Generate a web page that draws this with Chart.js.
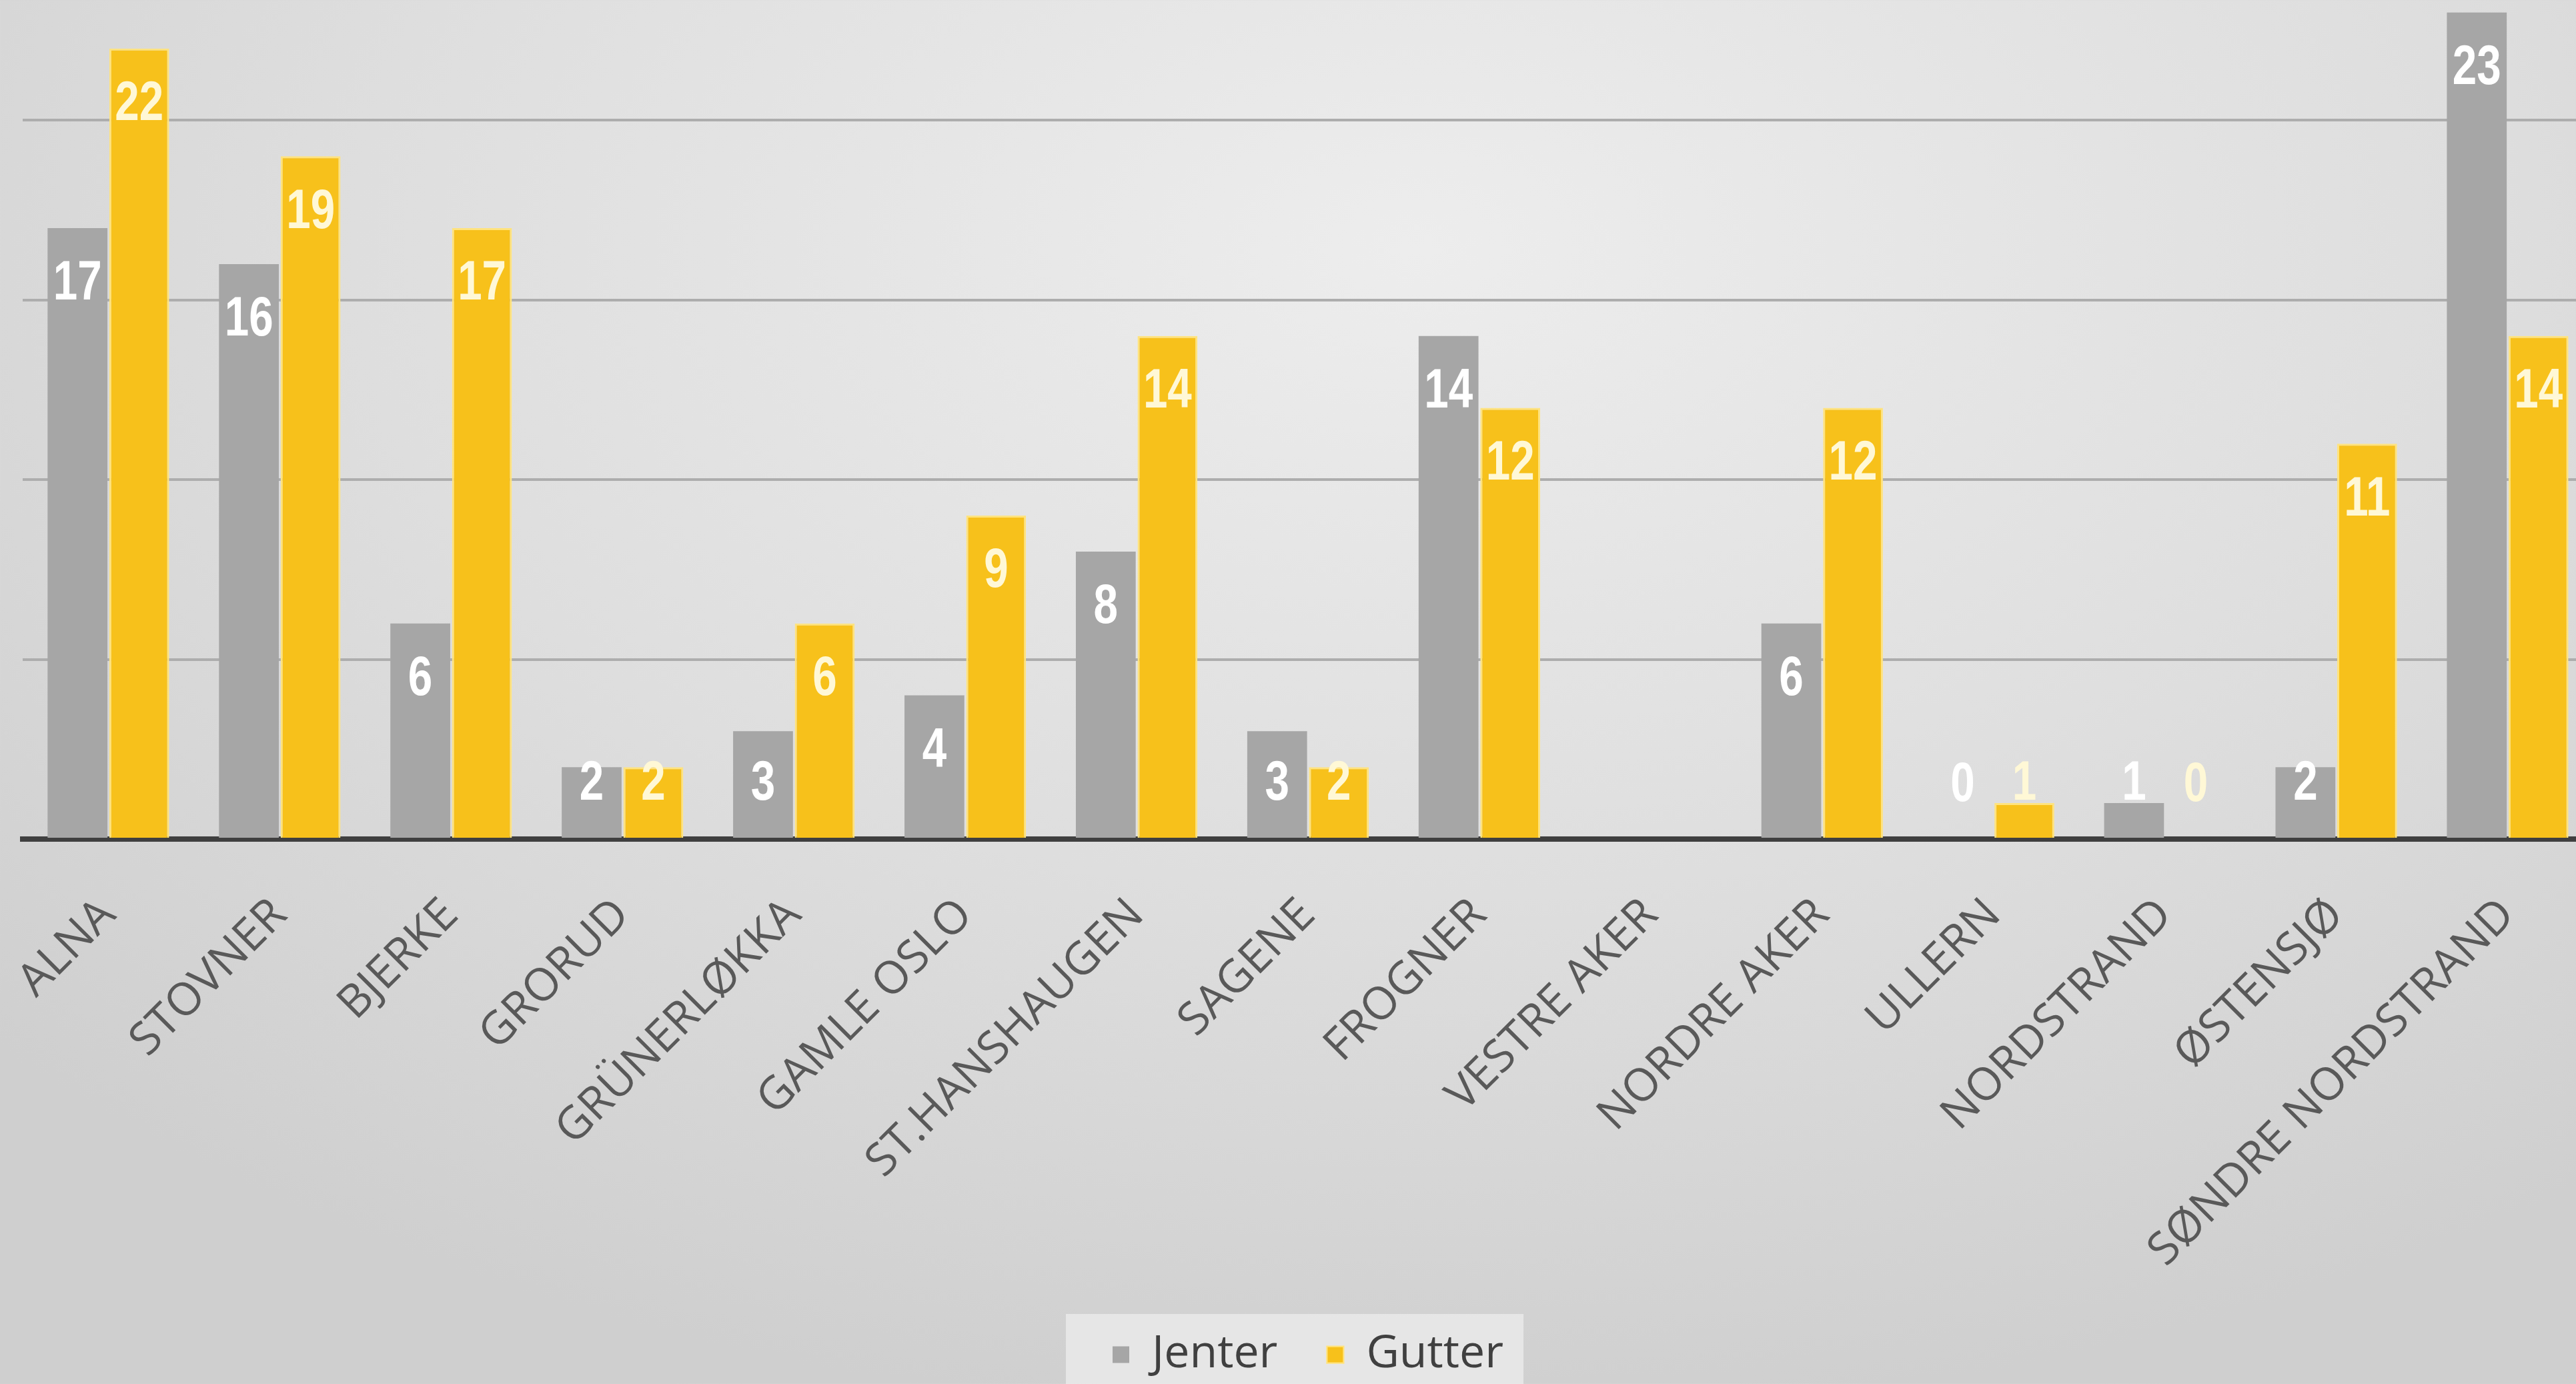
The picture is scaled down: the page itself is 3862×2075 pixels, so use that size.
<!DOCTYPE html>
<html>
<head>
<meta charset="utf-8">
<script src="https://cdn.jsdelivr.net/npm/chart.js@4.4.1/dist/chart.umd.min.js"></script>
<style>
    html, body { margin: 0; padding: 0; overflow: hidden; width: 3862px; height: 2075px; }
    body { background: radial-gradient(ellipse 75% 85% at 55% 18%, #ededed 0%, #dedede 55%, #cfcfcf 100%); }
    #wrap { position: absolute; left: 0; top: 0; width: 3890px; height: 2075px; }
</style>
</head>
<body>
<div id="wrap"><canvas id="chartBydel" width="3890" height="2075"></canvas></div>
<script>
var bydeler = ['ALNA', 'STOVNER', 'BJERKE', 'GRORUD', 'GRÜNERLØKKA', 'GAMLE OSLO', 'ST.HANSHAUGEN', 'SAGENE',
    'FROGNER', 'VESTRE AKER', 'NORDRE AKER', 'ULLERN', 'NORDSTRAND', 'ØSTENSJØ', 'SØNDRE NORDSTRAND'];
var jenter = [17, 16, 6, 2, 3, 4, 8, 3, 14, null, 6, 0, 1, 2, 23];
var gutter = [22, 19, 17, 2, 6, 9, 14, 2, 12, null, 12, 1, 0, 11, 14];
var gridSteps = [0, 5, 10, 15, 20];

var AXIS_Y = 1258;

// white value labels inside the top of each bar (like excel "inside end")
var valueLabels = {
    id: 'valueLabels',
    afterDatasetsDraw: function(chart) {
        var ctx = chart.ctx;
        ctx.save();
        ctx.font = 'bold 84px "Liberation Sans", "DejaVu Sans", sans-serif';
        ctx.textAlign = 'center';
        ctx.textBaseline = 'middle';
        chart.data.datasets.forEach(function(ds, di) {
            var meta = chart.getDatasetMeta(di);
            meta.data.forEach(function(bar, i) {
                var v = ds.data[i];
                if (v === null || v === undefined) return;
                var cy = Math.min(bar.y + 84, bar.base - 80);
                ctx.fillStyle = di === 0 ? '#ffffff' : '#fff8d6';
                // squeeze the digits a bit, the original font is narrow
                ctx.save();
                ctx.translate(bar.x, cy);
                ctx.scale(0.78, 1);
                ctx.fillText(String(v), 0, 0);
                ctx.restore();
            });
        });
        ctx.restore();
    }
};

// lighter box behind the legend
var legendBox = {
    id: 'legendBox',
    beforeDraw: function(chart) {
        var lg = chart.legend;
        if (!lg || !lg.legendHitBoxes || !lg.legendHitBoxes.length) return;
        var boxes = lg.legendHitBoxes;
        var left = boxes[0].left - 70;
        var last = boxes[boxes.length - 1];
        var right = last.left + last.width + 30;
        var ctx = chart.ctx;
        ctx.save();
        ctx.fillStyle = 'rgba(234,234,234,0.85)';
        ctx.fillRect(left, 1970, right - left, 2075 - 1970);
        ctx.restore();
    }
};

var ctx = document.getElementById('chartBydel');
var chartBydel = new Chart(ctx, {
    type: 'bar',
    data: {
        labels: bydeler,
        datasets: [
            {
                label: 'Jenter',
                data: jenter,
                backgroundColor: '#a6a6a6',
                borderWidth: 0
            },
            {
                label: 'Gutter',
                data: gutter,
                backgroundColor: '#f7c11b',
                borderColor: '#ffe37e',
                borderWidth: {left: 3, right: 3, top: 3, bottom: 0}
            }
        ]
    },
    plugins: [valueLabels, legendBox],
    options: {
        responsive: false,
        devicePixelRatio: 1,
        animation: false,
        layout: { padding: { left: 34, right: 2, top: 0, bottom: 0 } },
        datasets: {
            bar: { categoryPercentage: 0.72, barPercentage: 0.97 }
        },
        scales: {
            x: {
                grid: { display: false, drawTicks: false },
                border: { display: true, color: '#3f3f3f', width: 8 },
                ticks: {
                    autoSkip: false,
                    maxRotation: 45,
                    minRotation: 45,
                    padding: 74,
                    color: '#595959',
                    font: { family: '"Open Sans", sans-serif', size: 68 }
                },
                afterFit: function(s) {
                    s.paddingLeft = 0;
                    s.paddingRight = 0;
                    s.height = s.chart.height - AXIS_Y - s.chart.legend.height;
                }
            },
            y: {
                min: 0,
                max: 23.35,
                ticks: { display: false, stepSize: 5 },
                border: { display: false },
                grid: {
                    drawTicks: false,
                    lineWidth: 4,
                    color: function(c) {
                        return gridSteps.indexOf(c.tick.value) >= 0 ? '#adadad' : 'rgba(0,0,0,0)';
                    }
                },
                afterFit: function(s) { s.width = 0; }
            }
        },
        plugins: {
            tooltip: { enabled: false },
            legend: {
                position: 'bottom',
                labels: {
                    boxWidth: 25,
                    boxHeight: 25,
                    padding: 74,
                    color: '#404040',
                    font: { family: '"Open Sans", sans-serif', size: 68 }
                }
            }
        }
    }
});
</script>
</body>
</html>
